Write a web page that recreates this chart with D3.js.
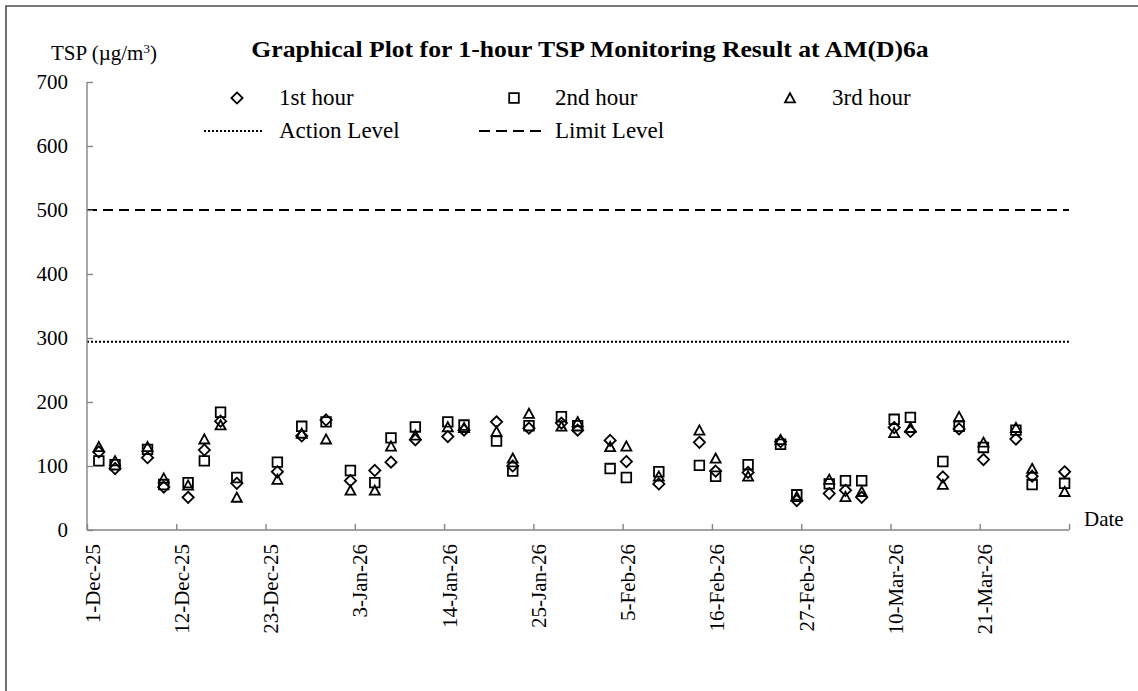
<!DOCTYPE html>
<html>
<head>
<meta charset="utf-8">
<script src="https://cdn.jsdelivr.net/npm/d3@7"></script>
<style>
  html, body { margin: 0; padding: 0; background: #fff; }
  svg { display: block; }
  text { font-family: "Liberation Serif", "Times New Roman", serif; fill: #000; }
</style>
</head>
<body>
<svg id="chart" width="1138" height="691"></svg>
<script>
// Sampling dates (1-hour TSP measurements, three consecutive hours per day)
const sampleDates = [
  "2025-12-02","2025-12-04","2025-12-08","2025-12-10","2025-12-13","2025-12-15",
  "2025-12-17","2025-12-19","2025-12-24","2025-12-27","2025-12-30","2026-01-02",
  "2026-01-05","2026-01-07","2026-01-10","2026-01-14","2026-01-16","2026-01-20",
  "2026-01-22","2026-01-24","2026-01-28","2026-01-30","2026-02-03","2026-02-05",
  "2026-02-09","2026-02-14","2026-02-16","2026-02-20","2026-02-24","2026-02-26",
  "2026-03-02","2026-03-04","2026-03-06","2026-03-10","2026-03-12","2026-03-16",
  "2026-03-18","2026-03-21","2026-03-25","2026-03-27","2026-03-31"
];
const sampleTime = "11:00";

// TSP concentrations (µg/m³)
const hour1 = [122, 96,113, 67, 51,125,170, 73, 91,147,172, 77, 93,106,141,146,156,169,100,159,167,
               156,140,107, 72,137, 92, 90,138, 46, 57, 62, 51,160,154, 83,158,110,142, 84, 91];
const hour2 = [108,102,126, 71, 74,108,184, 82,106,162,169, 93, 74,144,161,169,164,139, 92,163,177,
               163, 96, 82, 91,101, 84,102,134, 55, 72, 77, 77,173,176,107,162,129,156, 71, 73];
const hour3 = [130,108,130, 81, 70,142,164, 51, 79,151,142, 62, 62,131,148,161,160,154,112,182,162,
               169,130,131, 84,156,112, 84,141, 52, 79, 52, 60,152,160, 71,177,137,160, 96, 60];

const actionLevel = 294;
const limitLevel = 500;

const xTickLabels = ["1-Dec-25","12-Dec-25","23-Dec-25","3-Jan-26","14-Jan-26","25-Jan-26",
                     "5-Feb-26","16-Feb-26","27-Feb-26","10-Mar-26","21-Mar-26"];
const xAxisEnd = "1-Apr-26";
const yTicks = [0, 100, 200, 300, 400, 500, 600, 700];

const titleText = "Graphical Plot for 1-hour TSP Monitoring Result at AM(D)6a";
const seriesNames = ["1st hour", "2nd hour", "3rd hour"];

// ---------------------------------------------------------------
const svg = d3.select("#chart");
const W = 1138, H = 691;
const plot = { left: 87, right: 1069, top: 82, bottom: 530 };

const parseTick = d3.timeParse("%d-%b-%y");
const parseSample = d3.timeParse("%Y-%m-%d %H:%M");
const tickDates = xTickLabels.map(parseTick);
const endDate = parseTick(xAxisEnd);

const x = d3.scaleTime().domain([tickDates[0], endDate]).range([plot.left, plot.right]);
const y = d3.scaleLinear().domain([0, 700]).range([plot.bottom, plot.top]);

const axisColor = "#858585";

// Outer frame (top and left edges visible)
svg.append("path")
  .attr("d", `M6,${H} V6 H${W}`)
  .attr("fill", "none").attr("stroke", "#4d4d4d").attr("stroke-width", 1.6);

// Marker shapes
function markerPath(kind) {
  const p = d3.path();
  if (kind === 0) {        // diamond
    const r = 5.6;
    p.moveTo(0, -r); p.lineTo(r, 0); p.lineTo(0, r); p.lineTo(-r, 0); p.closePath();
  } else if (kind === 1) { // square
    const s = 4.8;
    p.rect(-s, -s, 2 * s, 2 * s);
  } else {                 // triangle
    p.moveTo(0, -4.8); p.lineTo(5, 4.4); p.lineTo(-5, 4.4); p.closePath();
  }
  return p.toString();
}

// Reference lines
const refLines = [
  { value: actionLevel, dash: "2,2", width: 2 },
  { value: limitLevel, dash: "10,6", width: 2.2 }
];
svg.append("g").selectAll("line").data(refLines).join("line")
  .attr("x1", plot.left).attr("x2", plot.right)
  .attr("y1", d => y(d.value)).attr("y2", d => y(d.value))
  .attr("stroke", "#000").attr("stroke-width", d => d.width)
  .attr("stroke-dasharray", d => d.dash);

// Y axis
const yAxis = d3.axisRight(y).tickValues(yTicks).tickSize(6).tickFormat("");
const gy = svg.append("g").attr("transform", `translate(${plot.left},0)`).call(yAxis);
gy.select(".domain").attr("stroke", axisColor).attr("stroke-width", 1.4)
  .attr("d", `M0,${plot.top}V${plot.bottom}`);
gy.selectAll(".tick line").attr("stroke", axisColor).attr("stroke-width", 1.4);

svg.append("g").selectAll("text").data(yTicks).join("text")
  .attr("x", 68).attr("y", d => y(d)).attr("dy", "0.34em")
  .attr("text-anchor", "end").style("font-size", "21px")
  .text(d => d);

// X axis
const allTicks = tickDates.concat([endDate]);
const xAxis = d3.axisTop(x).tickValues(allTicks).tickSize(6).tickFormat("");
const gx = svg.append("g").attr("transform", `translate(0,${plot.bottom})`).call(xAxis);
gx.select(".domain").attr("stroke", axisColor).attr("stroke-width", 1.4)
  .attr("d", `M${plot.left},0H${plot.right}`);
gx.selectAll(".tick line").attr("stroke", axisColor).attr("stroke-width", 1.4);

svg.append("g").selectAll("text").data(tickDates).join("text")
  .attr("transform", d => `translate(${x(d) + 12.5},${plot.bottom + 14}) rotate(-90)`)
  .attr("text-anchor", "end").style("font-size", "21px")
  .text((d, i) => xTickLabels[i]);

svg.append("text").attr("x", 1084).attr("y", 526)
  .style("font-size", "21px").text("Date");

// Y unit label
const unit = svg.append("text").attr("x", 51).attr("y", 60).style("font-size", "21px");
unit.append("tspan").text("TSP (µg/m");
unit.append("tspan").attr("dy", -7).style("font-size", "13px").text("3");
unit.append("tspan").attr("dy", 7).text(")");

// Title
svg.append("text")
  .attr("transform", "translate(590,57) scale(1.07,1)")
  .attr("text-anchor", "middle")
  .style("font-size", "24px").style("font-weight", "bold")
  .text(titleText);

// Data markers
const series = [hour1, hour2, hour3];
const times = sampleDates.map(d => parseSample(d + " " + sampleTime));
series.forEach((vals, k) => {
  svg.append("g").selectAll("path").data(vals).join("path")
    .attr("transform", (v, i) => `translate(${x(times[i])},${y(v)})`)
    .attr("d", markerPath(k))
    .attr("fill", "none").attr("stroke", "#000").attr("stroke-width", 1.8);
});

// Legend
const legend = svg.append("g").style("font-size", "23px");
const legendItems = [
  { kind: 0, mx: 237, tx: 279, label: seriesNames[0] },
  { kind: 1, mx: 514, tx: 555, label: seriesNames[1] },
  { kind: 2, mx: 790, tx: 832, label: seriesNames[2] }
];
legendItems.forEach(it => {
  legend.append("path").attr("transform", `translate(${it.mx},98)`)
    .attr("d", markerPath(it.kind))
    .attr("fill", "none").attr("stroke", "#000").attr("stroke-width", 1.8);
  legend.append("text").attr("x", it.tx).attr("y", 105).text(it.label);
});
const lineItems = [
  { x1: 204, x2: 264, tx: 279, label: "Action Level", dash: "2,2", width: 2 },
  { x1: 479, x2: 547, tx: 555, label: "Limit Level", dash: "11,6", width: 2.2 }
];
lineItems.forEach(it => {
  legend.append("line").attr("x1", it.x1).attr("x2", it.x2).attr("y1", 131).attr("y2", 131)
    .attr("stroke", "#000").attr("stroke-width", it.width)
    .attr("stroke-dasharray", it.dash);
  legend.append("text").attr("x", it.tx).attr("y", 138).text(it.label);
});
</script>
</body>
</html>
